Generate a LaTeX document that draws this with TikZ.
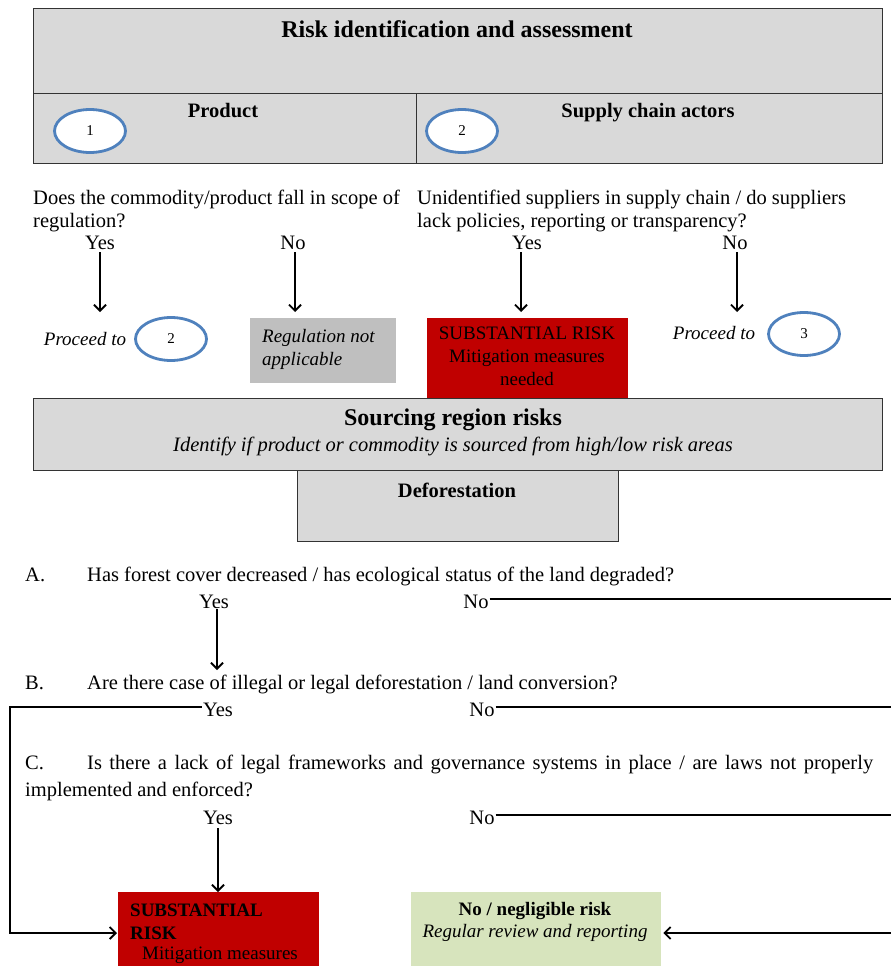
\documentclass[tikz,border=0pt]{standalone}
\usepackage{fontspec}
\setmainfont{Liberation Serif}
\usetikzlibrary{shapes.geometric,arrows.meta}
\definecolor{panelgray}{HTML}{D9D9D9}
\definecolor{nagray}{HTML}{BFBFBF}
\definecolor{riskred}{HTML}{C00000}
\definecolor{okgreen}{HTML}{D7E4BD}
\definecolor{ringblue}{HTML}{4F81BD}
\newcommand{\fsq}{\fontsize{20.5}{23}\selectfont}
\newcommand{\fsh}{\fontsize{24}{27}\selectfont\bfseries}
\newcommand{\fsk}{\fontsize{20.5}{23}\selectfont\bfseries}
\newcommand{\fss}{\fontsize{19}{23}\selectfont}
\begin{document}
\begin{tikzpicture}[x=1pt,y=-1pt,
  panel/.style={draw=black!80, line width=1.2pt, fill=panelgray, rectangle, anchor=north west, inner sep=0pt},
  flat/.style={rectangle, anchor=north west, inner sep=0pt},
  ring/.style={ellipse, draw=ringblue, line width=2.8pt, fill=white, minimum width=71pt, minimum height=43pt, inner sep=0pt, font=\fontsize{15}{17}\selectfont},
  txt/.style={inner sep=0pt, anchor=mid, yshift=-4pt},
  lbl/.style={inner sep=0pt, anchor=mid west, yshift=-4pt},
  arr/.style={line width=1.8pt, -{Straight Barb[length=6pt,width=12pt,line width=1.8pt]}},
  link/.style={line width=1.8pt},
]
\useasboundingbox (0,0) rectangle (891,966);

% ---- Risk identification header ----
\node[panel, minimum width=849pt, minimum height=85pt] (head) at (33,8) {};
\node[panel, minimum width=383pt, minimum height=70pt] (prodbox) at (33,93) {};
\node[panel, minimum width=466pt, minimum height=70pt] (actbox) at (416,93) {};
\node[txt, font=\fsh, yshift=-2pt] (headt) at (457,29) {Risk identification and assessment};
\node[txt, font=\fsk] (prodt) at (223,111) {Product};
\node[txt, font=\fsk] (actt) at (648,111) {Supply chain actors};
\node[ring] (r1) at (90,131) {1};
\node[ring] (r2) at (462,131) {2};

% ---- Product question ----
\node[lbl, font=\fsq, align=left, anchor=north west] (q1) at (33,186)
  {Does the commodity/product fall in scope of\\regulation?};
\node[txt, font=\fsq] (y1) at (100,243) {Yes};
\node[txt, font=\fsq] (n1) at (293,243) {No};
\coordinate (y1s) at (100,252);
\coordinate (y1e) at (100,312);
\coordinate (n1s) at (295,252);
\coordinate (n1e) at (295,312);
\draw[arr] (y1s) -- (y1e);
\draw[arr] (n1s) -- (n1e);
\node[txt, font=\fss\itshape] (p1) at (85,339) {Proceed to};
\node[ring] (r3) at (171,339) {2};
\node[flat, fill=nagray, minimum width=146pt, minimum height=65pt] (nabox) at (250,318) {};
\node[lbl, font=\fss\itshape, align=left, anchor=north west] (nat) at (262,325) {Regulation not\\applicable};

% ---- Supply chain question ----
\node[lbl, font=\fsq, align=left, anchor=north west] (q2) at (417,186)
  {Unidentified suppliers in supply chain / do suppliers\\lack policies, reporting or transparency?};
\node[txt, font=\fsq] (y2) at (527,243) {Yes};
\node[txt, font=\fsq] (n2) at (735,243) {No};
\coordinate (y2s) at (521,252);
\coordinate (y2e) at (521,312);
\coordinate (n2s) at (737,252);
\coordinate (n2e) at (737,312);
\draw[arr] (y2s) -- (y2e);
\draw[arr] (n2s) -- (n2e);
\node[flat, fill=riskred, minimum width=201pt, minimum height=82pt] (srbox) at (427,318) {};
\node[txt, font=\fss, align=center, anchor=north] (srt) at (527,323) {SUBSTANTIAL RISK\\Mitigation measures\\needed};
\node[txt, font=\fss\itshape] (p2) at (714,333) {Proceed to};
\node[ring] (r4) at (804,334) {3};

% ---- Sourcing region ----
\node[panel, minimum width=849pt, minimum height=72pt] (srcbox) at (33,398) {};
\node[txt, font=\fsh] (srct) at (453,419) {Sourcing region risks};
\node[txt, font=\fontsize{20.5}{23}\selectfont\itshape] (srcs) at (453,445) {Identify if product or commodity is sourced from high/low risk areas};
\node[panel, minimum width=321pt, minimum height=71pt] (defbox) at (297,470) {};
\node[txt, font=\fsk] (deft) at (457,491) {Deforestation};

% ---- Question A ----
\node[lbl, font=\fsq] (qa) at (25,575) {A.};
\node[lbl, font=\fsq] (qat) at (87,575) {Has forest cover decreased / has ecological status of the land degraded?};
\node[txt, font=\fsq] (ya) at (214,602) {Yes};
\node[txt, font=\fsq] (na) at (476,602) {No};
\coordinate (nae) at (891,599);
\coordinate (yas) at (217,609);
\coordinate (yae) at (217,670);
\draw[link] ([xshift=1pt,yshift=7pt]na.mid east) -- (nae);
\draw[arr] (yas) -- (yae);

% ---- Question B ----
\node[lbl, font=\fsq] (qb) at (25,683) {B.};
\node[lbl, font=\fsq] (qbt) at (87,683) {Are there case of illegal or legal deforestation / land conversion?};
\node[txt, font=\fsq] (yb) at (218,710) {Yes};
\node[txt, font=\fsq] (nb) at (482,710) {No};
\coordinate (nbe) at (891,707);
\coordinate (lb) at (10,707);
\draw[link] ([xshift=1pt,yshift=7pt]nb.mid east) -- (nbe);

% ---- Question C ----
\node[lbl, font=\fsq] (qc) at (25,763) {C.};
\node[lbl, font=\fsq] (qct) at (87,763)
  {\makebox[786pt][s]{Is there a lack of legal frameworks and governance systems in place / are laws not properly}};
\node[lbl, font=\fsq] (qc2) at (25,790) {implemented and enforced?};
\node[txt, font=\fsq] (yc) at (218,818) {Yes};
\node[txt, font=\fsq] (nc) at (482,818) {No};
\coordinate (nce) at (891,815);
\coordinate (ycs) at (218,828);
\draw[link] ([xshift=1pt,yshift=7pt]nc.mid east) -- (nce);

% ---- Outcomes ----
\node[flat, fill=riskred, minimum width=201pt, minimum height=90pt] (srbox2) at (118,892) {};
\node[lbl, font=\fss\bfseries, anchor=north west, align=left] (sr2a) at (130,900) {SUBSTANTIAL\\RISK};
\node[lbl, font=\fss] (sr2b) at (142,953) {Mitigation measures};
\node[flat, fill=okgreen, minimum width=250pt, minimum height=90pt] (okbox) at (411,892) {};
\node[txt, font=\fss\bfseries] (okt) at (535,909) {No / negligible risk};
\node[txt, font=\fss\itshape] (oks) at (535,931) {Regular review and reporting};

\draw[arr] (ycs) -- (srbox2.north -| ycs);
\coordinate (re) at (891,933);
\draw[arr] (re) -- ([xshift=2pt]okbox.east |- re);
\draw[arr] ([xshift=-1pt,yshift=7pt]yb.mid west) -- (lb) |- ([xshift=-1pt]srbox2.west |- re);
\end{tikzpicture}
\end{document}
